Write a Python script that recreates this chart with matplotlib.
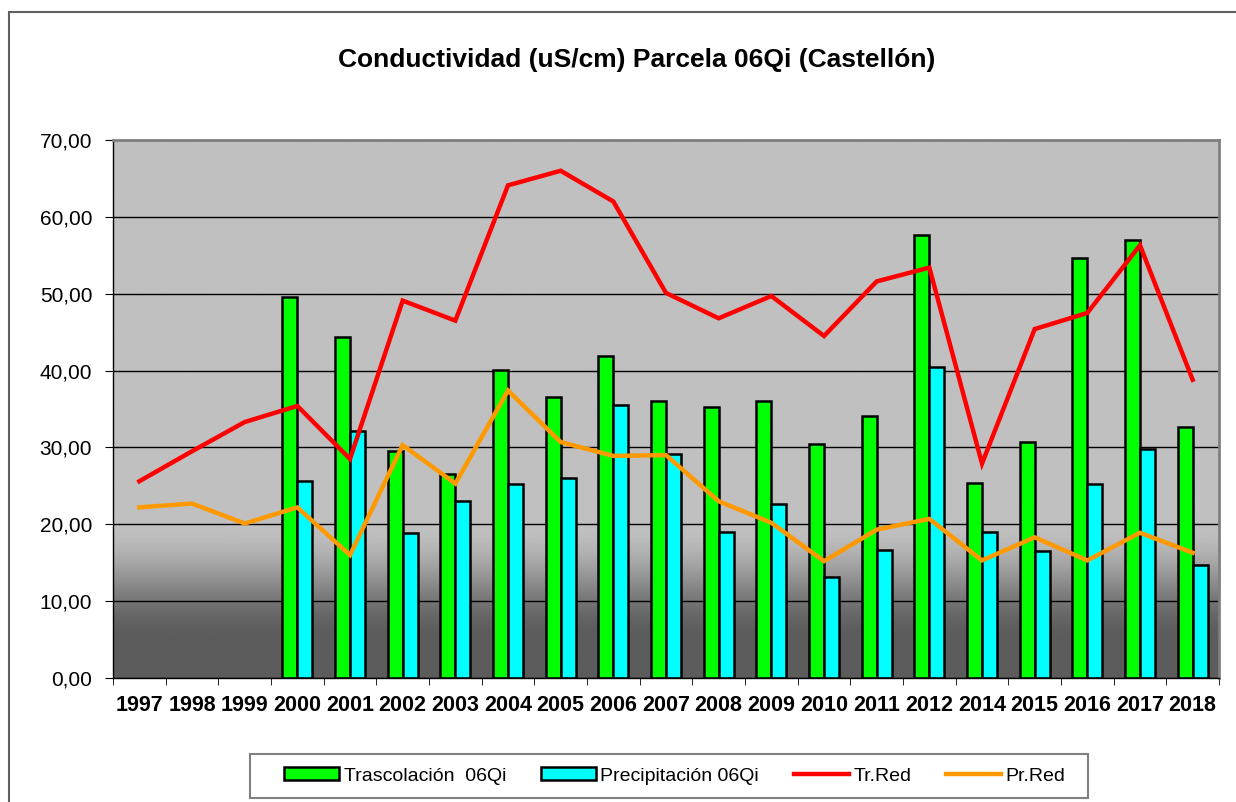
import matplotlib.pyplot as plt
import numpy as np
from matplotlib.patches import Rectangle, Patch
from matplotlib.lines import Line2D
from matplotlib.ticker import FuncFormatter

plt.rcParams['font.family'] = ['Liberation Sans', 'DejaVu Sans']

# Datos
anios = ['1997', '1998', '1999', '2000', '2001', '2002', '2003', '2004', '2005', '2006',
         '2007', '2008', '2009', '2010', '2011', '2012', '2014', '2015', '2016', '2017', '2018']
trascolacion = [np.nan, np.nan, np.nan, 49.6, 44.4, 29.6, 26.5, 40.1, 36.6, 41.9,
                36.0, 35.3, 36.1, 30.5, 34.1, 57.6, 25.4, 30.7, 54.7, 57.0, 32.7]
precipitacion = [np.nan, np.nan, np.nan, 25.6, 32.1, 18.9, 23.0, 25.3, 26.0, 35.5,
                 29.2, 19.0, 22.6, 13.1, 16.6, 40.4, 19.0, 16.5, 25.3, 29.8, 14.7]
tr_red = [25.6, 29.5, 33.3, 35.4, 28.5, 49.1, 46.5, 64.1, 66.0, 62.0,
          50.1, 46.8, 49.7, 44.5, 51.6, 53.4, 27.9, 45.4, 47.5, 56.3, 38.8]
pr_red = [22.2, 22.7, 20.1, 22.2, 16.0, 30.3, 25.3, 37.4, 30.7, 28.9,
          29.0, 23.0, 20.2, 15.2, 19.3, 20.7, 15.3, 18.3, 15.3, 18.9, 16.3]

x = np.arange(len(anios))
ancho = 0.285

fig = plt.figure(figsize=(12.36, 8.02), dpi=100)
ax = fig.add_axes([113/1236, 1-678/802, (1219-113)/1236, (678-140)/802])

# fondo degradado
v = np.linspace(70, 0, 700)
t = np.clip((20 - v) / 15, 0, 1)
t = t * t * (3 - 2 * t)
gris = (192 - 100 * t) / 255
fondo = np.repeat(gris[:, None], 2, axis=1)
ax.imshow(fondo, cmap='gray', vmin=0, vmax=1, extent=[0, 1, 0, 1],
          transform=ax.transAxes, aspect='auto', zorder=0, interpolation='bilinear')

ax.set_xlim(-0.5, len(anios) - 0.5)
ax.set_ylim(0, 70)
ax.set_yticks(np.arange(0, 71, 10))
ax.yaxis.grid(True, color='black', lw=1)
ax.set_axisbelow(True)

ax.bar(x - ancho/2, trascolacion, ancho, color='#00ff00', edgecolor='black', lw=1.8, zorder=2)
ax.bar(x + ancho/2, precipitacion, ancho, color='#00ffff', edgecolor='black', lw=1.8, zorder=2)
ax.plot(x, tr_red, color='#ff0000', lw=3.2, zorder=3, solid_joinstyle='miter')
ax.plot(x, pr_red, color='#ff9900', lw=3.2, zorder=3, solid_joinstyle='miter')

ax.yaxis.set_major_formatter(FuncFormatter(lambda val, p: f'{val:.2f}'.replace('.', ',')))
ax.tick_params(axis='y', length=6, pad=9, labelsize=15, direction='out', color='black')
ax.set_xticks(x)
ax.set_xticklabels(anios, fontweight='bold', fontsize=15.5)
ax.set_xticks(np.arange(-0.5, len(anios)), minor=True)
ax.tick_params(axis='x', which='major', length=0, pad=12)
ax.tick_params(axis='x', which='minor', length=5, direction='out', color='black')

for lado in ['top', 'right']:
    ax.spines[lado].set_color('#808080')
    ax.spines[lado].set_linewidth(2)
for lado in ['left', 'bottom']:
    ax.spines[lado].set_color('black')
    ax.spines[lado].set_linewidth(1)

fig.text(637/1236, 1-60/802, 'Conductividad (uS/cm) Parcela 06Qi (Castellón)',
         ha='center', va='center', fontsize=19, fontweight='bold')

# marco exterior
fig.patches.append(Rectangle((9/1236, -0.1), 1.1, (802-12)/802 + 0.1, transform=fig.transFigure,
                             fill=False, edgecolor='#606060', lw=1.5))

# marco de la leyenda
fig.patches.append(Rectangle((250/1236, 1-798/802), (1088-250)/1236, (798-754)/802,
                             transform=fig.transFigure, facecolor='white',
                             edgecolor='#808080', lw=1.5))

handles = [Patch(facecolor='#00ff00', edgecolor='black', lw=1.8),
           Patch(facecolor='#00ffff', edgecolor='black', lw=1.8),
           Line2D([], [], color='#ff0000', lw=3.2),
           Line2D([], [], color='#ff9900', lw=3.2)]
etiquetas = ['Trascolación  06Qi', 'Precipitación 06Qi', 'Tr.Red', 'Pr.Red']
leg = fig.legend(handles, etiquetas, loc='center', bbox_to_anchor=(675/1236, 1-776/802),
                 ncol=4, fontsize=14, frameon=False,
                 handlelength=2.8, handleheight=0.6, handletextpad=0.25, columnspacing=1.8,
                 borderpad=0.75)

fig.savefig('out.png', dpi=100)
